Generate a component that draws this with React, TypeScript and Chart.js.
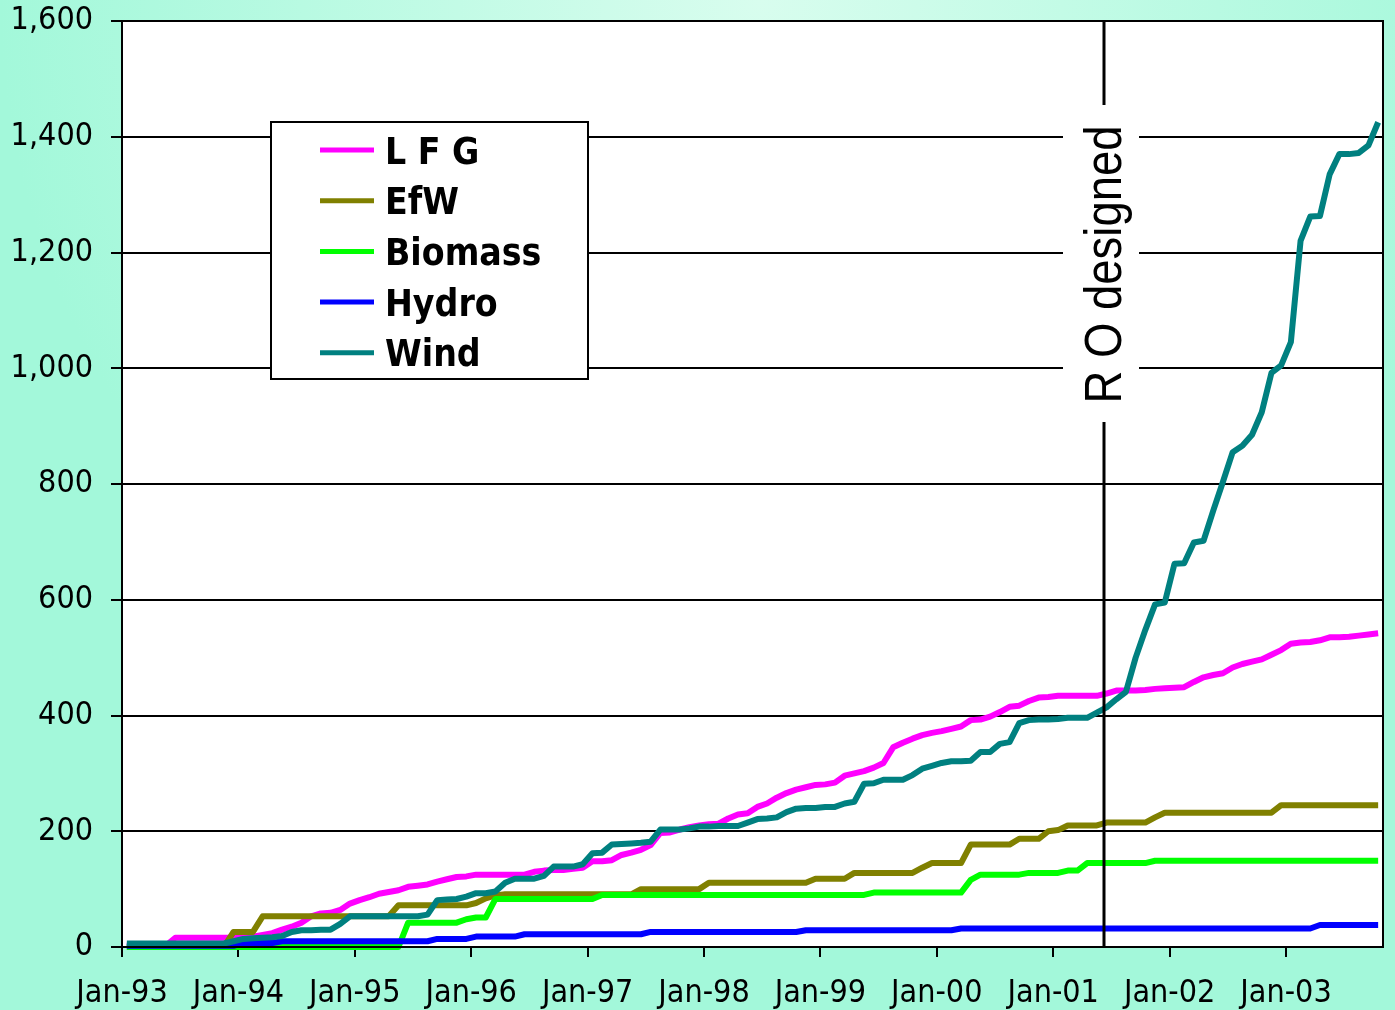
import React, { useEffect, useRef } from 'react';
import { Chart, registerables } from 'chart.js';

Chart.register(...registerables);

// ---- data (monthly, Jan-93 .. Oct-03) ----
const xTickLabels = ['Jan-93', 'Jan-94', 'Jan-95', 'Jan-96', 'Jan-97', 'Jan-98', 'Jan-99', 'Jan-00', 'Jan-01', 'Jan-02', 'Jan-03'];
const monthsCount = 130;
const yTicks = [0, 200, 400, 600, 800, 1000, 1200, 1400, 1600];
const roMarkerMonth = 101.25; // "R O designed" (around Jun-01)
const roLabel = 'R O designed';

const seriesNames = ['L F G', 'EfW', 'Biomass', 'Hydro', 'Wind'];
const seriesColors = ['#FF00FF', '#808000', '#00FF00', '#0000FF', '#008080'];

const lfg = [
  2, 2, 2, 2, 2,
  16, 16, 16, 16, 16, 16,
  16, 17, 18, 21, 24, 30, 35, 42, 53,
  58, 59, 64, 75, 81, 86, 92, 95, 98, 104,
  106, 108, 113, 117, 121, 122, 125, 125, 125, 125,
  125, 125, 130, 132, 133, 133, 135, 137, 148, 148,
  150, 159, 163, 168, 176, 197, 198, 203, 207, 210,
  212, 213, 222, 229, 231, 242, 248, 258, 266, 272,
  276, 280, 281, 284, 296, 300, 304, 310, 318, 345,
  353, 360, 366, 370, 373, 377, 381, 392, 393, 398,
  406, 415, 417, 425, 431, 432, 434, 434, 434, 434,
  434, 438, 443, 443, 443, 444, 446, 447, 448, 449,
  458, 466, 470, 473, 483, 489, 493, 497, 505, 513,
  524, 526, 527, 530, 535, 535, 536, 538, 540, 542,
];

const efw = [
  0, 0, 0, 0, 0, 0, 0, 0, 0, 0, 0,
  26, 26, 26,
  53, 53, 53, 53, 53, 53, 53, 53, 53, 53, 53, 53, 53, 53,
  72, 72, 72, 72, 72, 72, 72, 72,
  76, 84, 89, 91,
  91, 91, 91, 91, 91, 91, 91, 91, 91, 91, 91, 91, 91,
  100, 100, 100, 100, 100, 100, 100,
  111, 111, 111, 111, 111, 111, 111, 111, 111, 111, 111,
  118, 118, 118, 118,
  128, 128, 128, 128, 128, 128, 128,
  137,
  145, 145, 145, 145,
  177, 177, 177, 177, 177,
  187, 187, 187,
  200, 202,
  210, 210, 210, 210,
  215, 215, 215, 215, 215,
  224,
  232, 232, 232, 232, 232, 232, 232, 232, 232, 232, 232, 232,
  245, 245, 245, 245, 245, 245, 245, 245, 245, 245, 245,
];

const biomass = [
  0, 0, 0, 0, 0, 0, 0, 0, 0, 0, 0, 0, 0, 0, 0, 0, 0, 0, 0, 0, 0, 0, 0, 0, 0, 0, 0, 0, 0,
  42, 42, 42, 42, 42, 42,
  48,
  51, 51,
  83, 83, 83, 83, 83, 83, 83, 83, 83, 83, 83,
  90, 90, 90, 90, 90, 90, 90, 90, 90, 90, 90, 90, 90, 90, 90, 90, 90, 90, 90, 90, 90, 90, 90, 90, 90, 90, 90, 90,
  94, 94, 94, 94, 94, 94, 94, 94, 94, 94,
  116,
  125, 125, 125, 125, 125,
  128, 128, 128, 128,
  132, 132,
  145, 145, 145, 145, 145, 145, 145,
  149, 149, 149, 149, 149, 149, 149, 149, 149, 149, 149, 149, 149, 149, 149, 149, 149, 149, 149, 149, 149, 149, 149, 149,
];

const hydro = [
  2, 2, 2, 2, 2, 2, 2, 2, 2, 2, 2, 2,
  7, 7, 7, 7,
  10, 10, 10, 10, 10, 10, 10, 10, 10, 10, 10, 10, 10, 10, 10, 10,
  14, 14, 14, 14,
  18, 18, 18, 18, 18,
  22, 22, 22, 22, 22, 22, 22, 22, 22, 22, 22, 22, 22,
  26, 26, 26, 26, 26, 26, 26, 26, 26, 26, 26, 26, 26, 26, 26, 26,
  29, 29, 29, 29, 29, 29, 29, 29, 29, 29, 29, 29, 29, 29, 29, 29,
  32, 32, 32, 32, 32, 32, 32, 32, 32, 32, 32, 32, 32, 32, 32, 32, 32, 32, 32, 32, 32, 32, 32, 32, 32, 32, 32, 32, 32, 32, 32, 32, 32, 32, 32, 32, 32,
  38, 38, 38, 38, 38, 38, 38,
];

const wind = [
  6, 6, 6, 6, 6, 6, 6, 6, 6, 6, 6,
  10,
  14, 15, 16, 17, 19,
  26,
  29, 29, 30, 30,
  40,
  53, 53, 53, 53, 53, 53, 53, 53,
  56,
  81, 82, 83,
  87, 93, 93,
  96, 111, 118, 118,
  118,
  123, 139, 139, 139,
  143, 162, 163,
  177, 178, 179, 180, 182,
  203, 203, 203,
  205, 208, 208, 209, 209, 209,
  215, 221, 222, 224,
  233, 239, 240, 240, 242, 242,
  248, 251, 282, 283,
  289, 289, 289,
  297, 308, 313, 318, 321, 321, 322,
  337, 337, 351, 354,
  387, 392, 393, 393, 394, 396, 396, 396,
  405, 414, 428, 441,
  500, 548, 592, 595, 662, 663, 699, 702,
  754, 804, 855, 866, 885, 924, 992, 1005,
  1045, 1220, 1262, 1263, 1335, 1370, 1370, 1372, 1385, 1425,
];

const seriesValues = [lfg, efw, biomass, hydro, wind];
// later series are drawn on top (as in the original)
const drawOrder = [5, 4, 3, 2, 1];

const AXIS_FONT = '"DejaVu Sans Condensed", "DejaVu Sans", sans-serif';

export default function App() {
  const canvasRef = useRef<HTMLCanvasElement | null>(null);

  useEffect(() => {
    const canvas = canvasRef.current;
    if (!canvas) return;

    const backgroundPlugin = {
      id: 'bgPlugin',
      beforeDraw(chart: any) {
        const { ctx, width, height, chartArea } = chart;
        ctx.save();
        const g = ctx.createRadialGradient(760, 0, 0, 760, 0, 760);
        g.addColorStop(0, '#D8FDEE');
        g.addColorStop(1, '#A3F8DA');
        ctx.fillStyle = g;
        ctx.fillRect(0, 0, width, height);
        ctx.fillStyle = '#FFFFFF';
        ctx.fillRect(chartArea.left, chartArea.top, chartArea.right - chartArea.left, chartArea.bottom - chartArea.top);
        ctx.restore();
      },
    };

    const overlayPlugin = {
      id: 'overlayPlugin',
      afterDatasetsDraw(chart: any) {
        const { ctx, chartArea } = chart;
        const xs = chart.scales.x;
        const lineX = Math.round(xs.getPixelForValue(roMarkerMonth));
        const boxTop = 105;
        const boxBottom = 422;
        ctx.save();
        // white box behind label
        ctx.fillStyle = '#FFFFFF';
        ctx.fillRect(lineX - 41, boxTop, 76, boxBottom - boxTop);
        // vertical marker
        ctx.strokeStyle = '#000000';
        ctx.lineWidth = 3;
        ctx.beginPath();
        ctx.moveTo(lineX, chartArea.top);
        ctx.lineTo(lineX, boxTop);
        ctx.moveTo(lineX, boxBottom);
        ctx.lineTo(lineX, chartArea.bottom);
        ctx.stroke();
        // rotated label
        ctx.translate(lineX + 17, (boxTop + boxBottom) / 2 + 1);
        ctx.rotate(-Math.PI / 2);
        ctx.scale(0.875, 1);
        ctx.fillStyle = '#000000';
        ctx.font = '52px "Liberation Sans", Arial, sans-serif';
        ctx.textAlign = 'center';
        ctx.textBaseline = 'alphabetic';
        ctx.fillText(roLabel, 0, 0);
        ctx.restore();

        // plot border
        ctx.save();
        ctx.strokeStyle = '#000000';
        ctx.lineWidth = 2;
        ctx.strokeRect(chartArea.left, chartArea.top, chartArea.right - chartArea.left, chartArea.bottom - chartArea.top);
        ctx.restore();
      },
      afterDraw(chart: any) {
        const { ctx } = chart;
        const lx = 271, ly = 122, lw = 317, lh = 257;
        ctx.save();
        ctx.fillStyle = '#FFFFFF';
        ctx.fillRect(lx, ly, lw, lh);
        ctx.strokeStyle = '#000000';
        ctx.lineWidth = 2;
        ctx.strokeRect(lx, ly, lw, lh);
        ctx.font = 'bold 37px ' + AXIS_FONT;
        ctx.textAlign = 'left';
        ctx.textBaseline = 'alphabetic';
        chart.data.datasets.forEach((ds: any, i: number) => {
          const y = 150 + i * 50.7;
          ctx.strokeStyle = ds.borderColor;
          ctx.lineWidth = 5;
          ctx.beginPath();
          ctx.moveTo(320, y);
          ctx.lineTo(374, y);
          ctx.stroke();
          ctx.fillStyle = '#000000';
          ctx.fillText(ds.label, 385, y + 13.5);
        });
        ctx.restore();
      },
    };

    const datasets = seriesNames.map((name, k) => ({
      label: name,
      data: seriesValues[k].map((v, i) => ({ x: i + 0.5, y: v })),
      borderColor: seriesColors[k],
      backgroundColor: seriesColors[k],
      borderWidth: 6,
      pointRadius: 0,
      tension: 0,
      fill: false,
      clip: false as any,
      borderJoinStyle: 'round' as const,
      order: drawOrder[k],
    }));

    const chart = new Chart(canvas, {
      type: 'line',
      data: { datasets },
      options: {
        animation: false,
        responsive: false,
        devicePixelRatio: 1,
        layout: { padding: { left: 0, top: 21, right: 12, bottom: 0 } },
        plugins: {
          legend: { display: false },
          tooltip: { enabled: false },
        },
        scales: {
          x: {
            type: 'linear',
            min: 0,
            max: monthsCount,
            afterBuildTicks: (s: any) => {
              s.ticks = xTickLabels.map((_, k) => ({ value: k * 12 }));
            },
            afterFit: (s: any) => {
              s.height = 63;
              s.paddingLeft = 0;
              s.paddingRight = 0;
            },
            grid: {
              drawOnChartArea: false,
              drawTicks: true,
              tickLength: 10,
              color: '#000000',
              lineWidth: 2,
            },
            border: { display: true, color: '#000000', width: 2 },
            ticks: {
              autoSkip: false,
              maxRotation: 0,
              minRotation: 0,
              padding: 17,
              color: '#000000',
              font: { family: AXIS_FONT, size: 32 },
              callback: (v: any) => xTickLabels[Math.round(Number(v) / 12)] ?? '',
            },
          },
          y: {
            type: 'linear',
            min: 0,
            max: 1600,
            afterBuildTicks: (s: any) => {
              s.ticks = yTicks.map((v) => ({ value: v }));
            },
            afterFit: (s: any) => {
              s.width = 122;
              s.paddingTop = 0;
              s.paddingBottom = 0;
            },
            grid: {
              drawOnChartArea: true,
              drawTicks: true,
              tickLength: 11,
              color: '#000000',
              lineWidth: 2,
            },
            border: { display: true, color: '#000000', width: 2 },
            ticks: {
              padding: 18,
              color: '#000000',
              font: { family: AXIS_FONT, size: 32 },
              callback: (v: any) => Number(v).toLocaleString('en-US'),
            },
          },
        },
      },
      plugins: [backgroundPlugin, overlayPlugin],
    });

    return () => {
      chart.destroy();
    };
  }, []);

  return (
    <div style={{ position: 'absolute', left: 0, top: 0, width: 1395, height: 1010 }}>
      <canvas ref={canvasRef} width={1395} height={1010} style={{ display: 'block', width: 1395, height: 1010 }} />
    </div>
  );
}
